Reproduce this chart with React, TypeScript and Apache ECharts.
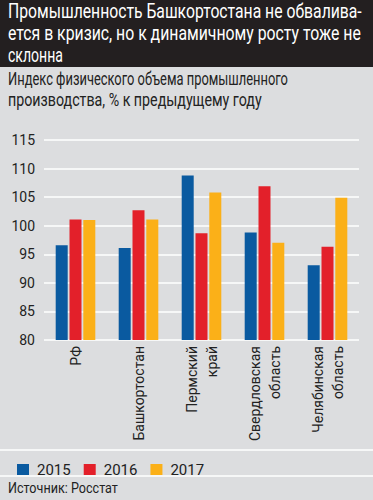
import React, { useEffect, useRef } from "react";
import * as echarts from "echarts";

const categories = ["РФ", "Башкортостан", "Пермский\nкрай", "Свердловская\nобласть", "Челябинская\nобласть"];
const years = ["2015", "2016", "2017"];
const values2015 = [96.6, 96.1, 108.8, 98.8, 93.1];
const values2016 = [101.1, 102.7, 98.7, 106.9, 96.3];
const values2017 = [101.0, 101.1, 105.8, 97.0, 104.9];
const colors = ["#0a5aa0", "#e3202a", "#fbb018"];

const titleLines = [
  "Промышленность Башкортостана не обвалива-",
  "ется в кризис, но к динамичному росту тоже не",
  "склонна",
];
const subtitleLines = ["Индекс физического объема промышленного", "производства, % к предыдущему году"];
const sourceText = "Источник: Росстат";

const FONT = "Roboto, 'Liberation Sans', sans-serif";

function measure(text: string, size: number): number {
  const c = document.createElement("canvas");
  const ctx = c.getContext("2d");
  if (!ctx) return text.length * size * 0.5;
  ctx.font = `${size}px Roboto`;
  return ctx.measureText(text).width;
}

function scaledText(text: string, x: number, y: number, size: number, width: number, fill: string) {
  const w = measure(text, size);
  return {
    type: "text",
    x,
    y,
    scaleX: width / w,
    style: { text, fill, fontSize: size, fontFamily: FONT, verticalAlign: "middle", align: "left" },
  };
}

export default function App() {
  const ref = useRef<HTMLDivElement>(null);
  useEffect(() => {
    if (!ref.current) return;
    const chart = echarts.init(ref.current, null, { renderer: "svg" });
    const series = [values2015, values2016, values2017].map((d, i) => ({
      name: years[i],
      type: "bar",
      data: d,
      barWidth: 12,
      barGap: "15%",
      itemStyle: { color: colors[i] },
    }));
    chart.setOption({
      animation: false,
      backgroundColor: "#dcdddf",
      textStyle: { fontFamily: FONT },
      grid: { left: 44, right: 14, top: 140, bottom: 160 },
      xAxis: {
        type: "category",
        data: categories,
        axisLine: { show: false },
        axisTick: { show: false },
        axisLabel: { rotate: 90, margin: 6, color: "#222", fontSize: 14, fontFamily: FONT, lineHeight: 20 },
      },
      yAxis: {
        type: "value",
        min: 80,
        max: 115,
        interval: 5,
        axisLabel: { color: "#222", fontSize: 14, margin: 9, fontFamily: FONT },
        splitLine: { lineStyle: { color: "#ffffff", width: 1.5 } },
      },
      legend: {
        left: 12,
        top: 457,
        itemWidth: 12,
        itemHeight: 11,
        itemGap: 13,
        icon: "rect",
        textStyle: { color: "#222", fontSize: 15, fontFamily: FONT, padding: [0, 0, 0, 3] },
        data: years,
      },
      graphic: [
        { type: "rect", left: 0, top: 0, shape: { width: 373, height: 67 }, style: { fill: "#231f20" } },
        scaledText(titleLines[0], 8, 11, 20, 354, "#ffffff"),
        scaledText(titleLines[1], 8, 33, 20, 353, "#ffffff"),
        scaledText(titleLines[2], 8, 55, 20, 55, "#ffffff"),
        scaledText(subtitleLines[0], 8, 79, 18, 280, "#222"),
        scaledText(subtitleLines[1], 8, 100, 18, 254, "#222"),
        { type: "line", shape: { x1: 0, y1: 450, x2: 373, y2: 450 }, style: { stroke: "#ffffff", lineWidth: 1.5 } },
        { type: "line", shape: { x1: 0, y1: 476, x2: 373, y2: 476 }, style: { stroke: "#ffffff", lineWidth: 1.5 } },
        scaledText(sourceText, 8, 488, 15, 110, "#222"),
      ],
      series,
    });
    return () => chart.dispose();
  }, []);
  return <div ref={ref} style={{ position: "fixed", left: 0, top: 0, width: 373, height: 500 }} />;
}
